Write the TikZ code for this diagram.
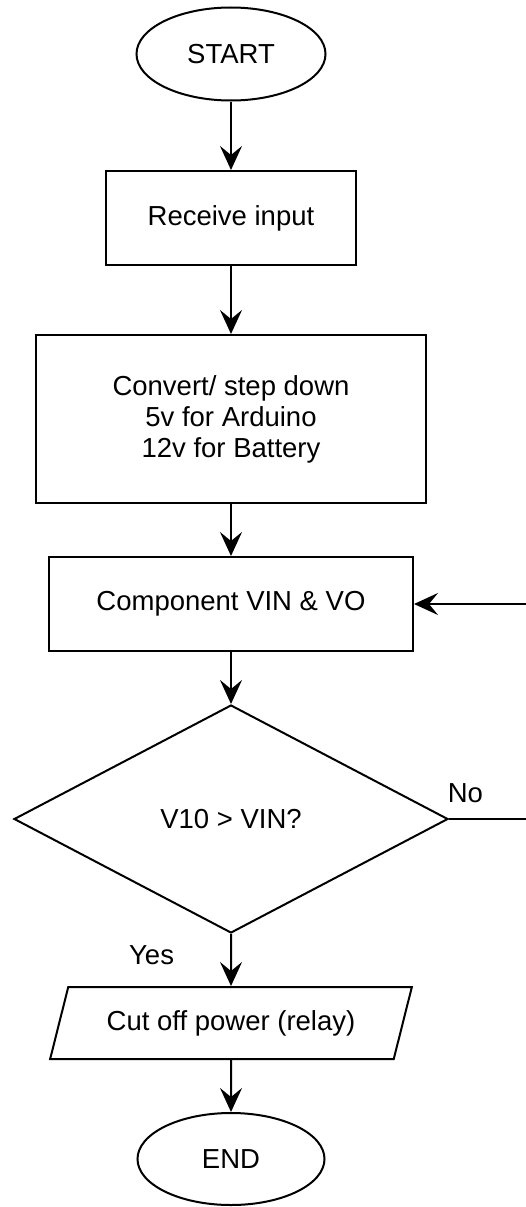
\documentclass[tikz,border=0pt]{standalone}
\usepackage{fontspec}
\setmainfont{Liberation Sans}
\usetikzlibrary{shapes.geometric, arrows.meta}
\tikzset{
    flowBlock/.style={
        draw=black, fill=white, line width=2pt, align=center, font=\fontsize{27.5}{31}\selectfont, inner sep=4pt
    },
    flowStartEnd/.style={
        flowBlock, ellipse
    },
    flowDecision/.style={
        flowBlock, diamond
    },
    flowIO/.style={
        flowBlock, trapezium, trapezium left angle=67, trapezium right angle=113, trapezium stretches=true
    },
    flowArrow/.style={
        -{Stealth[length=24pt, width=22pt, inset=9pt]}, line width=2pt, draw=black
    },
    flowLabel/.style={
        font=\fontsize{27.5}{31}\selectfont, inner sep=3pt
    }
}
\begin{document}
\begin{tikzpicture}[x=1pt, y=1pt]
    \useasboundingbox (0, 0) rectangle (525, -1207);

    % ── MAIN FLOW
    \node[flowStartEnd, minimum width=189, minimum height=93] (start) at (231, -54) {START};
    \node[flowBlock, minimum width=250, minimum height=94] (recvInput) at (231, -218) {Receive input};
    \node[flowBlock, minimum width=390, minimum height=168] (stepDown) at (231, -419) {
        Convert/ step down\\
        5v for Arduino\\
        12v for Battery
    };
    \node[flowBlock, minimum width=364, minimum height=94] (compVolt) at (231, -604) {Component VIN \& VO};
    \node[flowDecision, minimum width=434, minimum height=228] (decVolt) at (231, -819) {V10 > VIN?};
    \node[flowIO, minimum width=363, minimum height=72] (cutPower) at (231, -1023) {Cut off power (relay)};
    \node[flowStartEnd, minimum width=187, minimum height=92] (finish) at (231, -1159) {END};

    % Main Flow Arrows
    \draw[flowArrow] (start.south) -- (recvInput.north);
    \draw[flowArrow] (recvInput.south) -- (stepDown.north);
    \draw[flowArrow] (stepDown.south) -- (compVolt.north);
    \draw[flowArrow] (compVolt.south) -- (decVolt.north);
    \draw[flowArrow] (decVolt.south) -- node[flowLabel, left=53pt, pos=0.41] {Yes} (cutPower.north);
    \draw[flowArrow] (cutPower.south) -- (finish.north);

    % ── RETRY LOOP (runs off the right edge)
    \draw[flowArrow] (decVolt.east) -- ++(82, 0) node[flowLabel, above=12pt, pos=0.2] {No} |- (compVolt.east);
\end{tikzpicture}
\end{document}
